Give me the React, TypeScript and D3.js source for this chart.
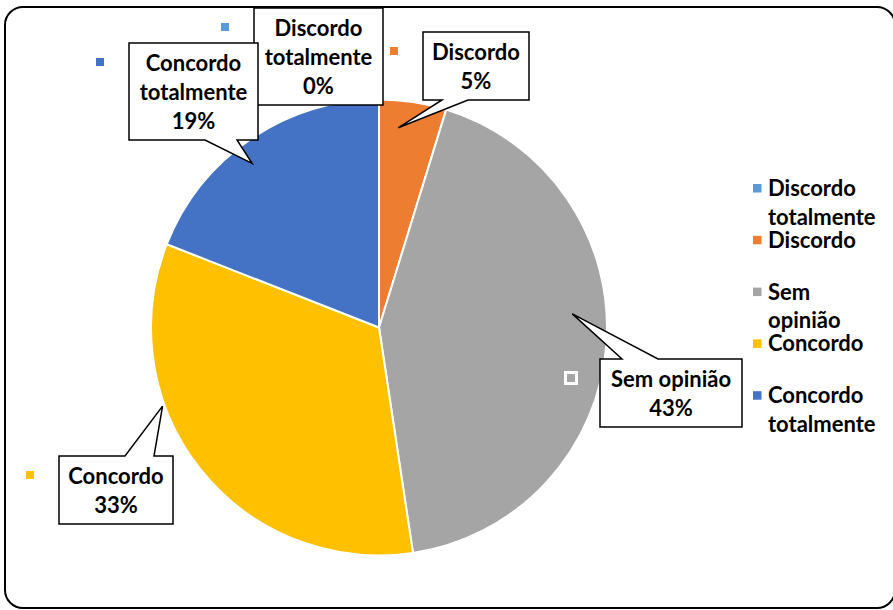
import React, {useEffect, useRef} from 'react';
import * as d3 from 'd3';

// survey answers (counts read from the percentages, n = 21)
const categories = ['Discordo totalmente', 'Discordo', 'Sem opinião', 'Concordo', 'Concordo totalmente'];
const counts = [0, 1, 9, 7, 4];
const colors = ['#5B9BD5', '#ED7D31', '#A5A5A5', '#FFC000', '#4472C4'];

// how the names wrap in the legend and in the callouts
const legendLines = [['Discordo', 'totalmente'], ['Discordo'], ['Sem', 'opinião'], ['Concordo'], ['Concordo', 'totalmente']];
const calloutLines = [['Discordo', 'totalmente'], ['Discordo'], ['Sem opinião'], ['Concordo'], ['Concordo', 'totalmente']];

// callout boxes, placed by hand like in the spreadsheet
// side: edge of the box the pointer leaves from; b1/b2: pointer base along that edge
// t: where along the slice the tip sits (0..1), r: tip radius as a fraction of the pie radius
const callouts = [
	{x: 254, y: 8, w: 129, side: 'none', b1: 0, b2: 0, t: 0, r: 1},
	{x: 423, y: 32, w: 106, side: 'bottom', b1: 19, b2: 45, t: 0.32, r: 0.88},
	{x: 600, y: 359, w: 142, side: 'top', b1: 22, b2: 58, t: 0.446, r: 0.85},
	{x: 59, y: 456, w: 114, side: 'top', b1: 66, b2: 95, t: 0.655, r: 1.01},
	{x: 129, y: 43, w: 129, side: 'bottom', b1: 76, b2: 108, t: 0.45, r: 0.91},
];

const FONT = 'Lato, "Open Sans", sans-serif';
const FONT_SIZE = 22;
const LINE = 29;

function PieChart({width, height}) {
	const svgRef = useRef(null);

	useEffect(() => {
		const svg = d3.select(svgRef.current);
		svg.selectAll('*').remove();

		const cx = 379, cy = 327.5, radius = 228;
		const total = d3.sum(counts);

		// frame
		svg.append('rect')
			.attr('x', 5).attr('y', 7)
			.attr('width', 890).attr('height', 601)
			.attr('rx', 18)
			.attr('fill', '#fff')
			.attr('stroke', '#000')
			.attr('stroke-width', 2);

		const pie = d3.pie().sort(null).value(d => d);
		const arcs = pie(counts);
		const arc = d3.arc().innerRadius(0).outerRadius(radius);

		const g = svg.append('g').attr('transform', `translate(${cx},${cy})`);
		g.selectAll('path.slice')
			.data(arcs)
			.enter().append('path')
			.attr('class', 'slice')
			.attr('d', arc)
			.attr('fill', (d, i) => colors[i])
			.attr('stroke', '#fff')
			.attr('stroke-width', 2)
			.attr('stroke-linejoin', 'round');

		// callouts
		const labels = svg.append('g').attr('class', 'callouts');
		callouts.forEach((c, i) => {
			const a = arcs[i];
			const lines = calloutLines[i].concat([Math.round(counts[i] / total * 100) + '%']);
			const h = LINE * lines.length + 10;
			const ang = a.startAngle + c.t * (a.endAngle - a.startAngle);
			const tipArc = d3.arc().innerRadius(radius * c.r).outerRadius(radius * c.r);
			const [tx, ty] = tipArc.centroid({startAngle: ang, endAngle: ang});
			const tipX = cx + tx, tipY = cy + ty;

			const p = d3.path();
			if (c.side === 'top') {
				p.moveTo(c.x, c.y);
				p.lineTo(c.x + c.b1, c.y);
				p.lineTo(tipX, tipY);
				p.lineTo(c.x + c.b2, c.y);
				p.lineTo(c.x + c.w, c.y);
				p.lineTo(c.x + c.w, c.y + h);
				p.lineTo(c.x, c.y + h);
			} else if (c.side === 'bottom') {
				p.moveTo(c.x, c.y);
				p.lineTo(c.x + c.w, c.y);
				p.lineTo(c.x + c.w, c.y + h);
				p.lineTo(c.x + c.b2, c.y + h);
				p.lineTo(tipX, tipY);
				p.lineTo(c.x + c.b1, c.y + h);
				p.lineTo(c.x, c.y + h);
			} else {
				p.rect(c.x, c.y, c.w, h);
			}
			p.closePath();

			labels.append('path')
				.attr('d', p.toString())
				.attr('fill', '#fff')
				.attr('stroke', '#000')
				.attr('stroke-width', 1.5)
				.attr('stroke-linejoin', 'miter');

			// legend key next to the callout
			labels.append('rect')
				.attr('x', c.x - 29 - 5.5).attr('y', c.y + 19 - 5.5)
				.attr('width', 11).attr('height', 11)
				.attr('fill', colors[i])
				.attr('stroke', '#fff')
				.attr('stroke-width', 3);

			labels.selectAll(null)
				.data(lines)
				.enter().append('text')
				.attr('x', c.x + c.w / 2)
				.attr('y', (d, k) => c.y + 28 + k * LINE)
				.attr('text-anchor', 'middle')
				.attr('font-family', FONT)
				.attr('font-weight', 700)
				.attr('font-size', FONT_SIZE)
				.attr('fill', '#000')
				.text(d => d);
		});

		// legend
		const legend = svg.append('g').attr('class', 'legend');
		categories.forEach((name, i) => {
			const base = 196 + i * 51.8;
			legend.append('rect')
				.attr('x', 753).attr('y', base - 12)
				.attr('width', 8.5).attr('height', 8.5)
				.attr('fill', colors[i]);
			legend.selectAll(null)
				.data(legendLines[i])
				.enter().append('text')
				.attr('x', 768)
				.attr('y', (d, k) => base + k * 28.5)
				.attr('font-family', FONT)
				.attr('font-weight', 700)
				.attr('font-size', FONT_SIZE)
				.attr('fill', '#000')
				.text(d => d);
		});
	}, []);

	return <svg width={width} height={height} ref={svgRef}/>;
}

export default function App() {
	return (
		<div style={{position: 'absolute', left: 0, top: 0}}>
			<PieChart width={893} height={610}/>
		</div>
	);
}
